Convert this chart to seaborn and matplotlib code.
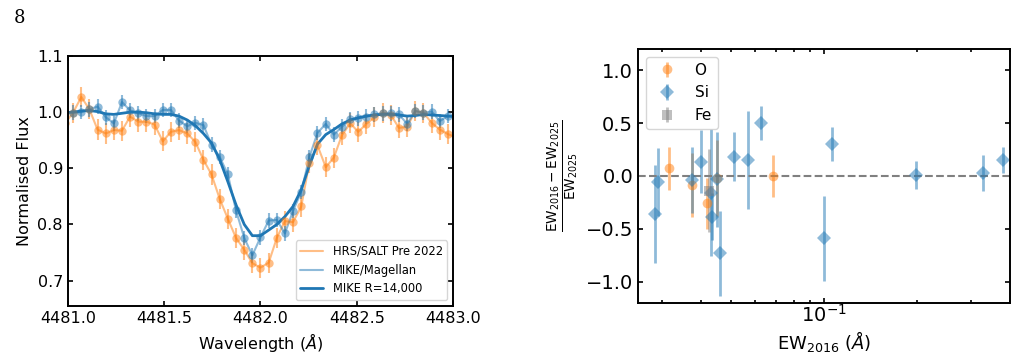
import numpy as np
import matplotlib
matplotlib.use("Agg")
import matplotlib.pyplot as plt
import seaborn as sns
import pandas as pd

# ---- left panel: spectra ----
wave = [4480.985, 4481.027, 4481.070, 4481.112, 4481.154, 4481.197, 4481.239,
        4481.281, 4481.323, 4481.366, 4481.408, 4481.450, 4481.493, 4481.535,
        4481.577, 4481.620, 4481.662, 4481.704, 4481.746, 4481.789, 4481.831,
        4481.873, 4481.916, 4481.958, 4482.000, 4482.043, 4482.085, 4482.127,
        4482.169, 4482.212, 4482.254, 4482.296, 4482.339, 4482.381, 4482.423,
        4482.466, 4482.508, 4482.550, 4482.592, 4482.635, 4482.677, 4482.719,
        4482.762, 4482.804, 4482.846, 4482.889, 4482.931, 4482.973, 4483.015]

hrs_flux = [0.980, 0.999, 1.027, 1.005, 0.969, 0.962, 0.968, 0.967, 0.992, 0.983,
            0.983, 0.978, 0.948, 0.965, 0.968, 0.962, 0.947, 0.915, 0.889, 0.845,
            0.810, 0.776, 0.755, 0.731, 0.723, 0.732, 0.776, 0.806, 0.804, 0.832,
            0.910, 0.941, 0.902, 0.919, 0.959, 0.980, 0.965, 0.979, 0.991, 0.999,
            0.995, 0.972, 0.974, 1.002, 0.999, 0.981, 0.969, 0.961, 0.955]
hrs_err = 0.018

# MIKE starts at the second wavelength bin
mike_flux = [0.999, 1.000, 1.005, 1.010, 0.991, 0.980, 1.018, 1.003, 0.998, 0.993,
             0.993, 1.004, 1.004, 0.985, 0.975, 0.981, 0.977, 0.942, 0.920, 0.889,
             0.825, 0.776, 0.745, 0.777, 0.807, 0.808, 0.784, 0.824, 0.858, 0.920,
             0.963, 0.979, 0.960, 0.974, 0.987, 0.989, 0.992, 0.996, 0.998, 0.998,
             0.996, 0.979, 1.002, 0.999, 1.001, 0.984, 0.993, 0.993]
mike_err = 0.013

mike_r14k = [0.999, 1.000, 1.002, 1.003, 1.001, 0.997, 0.996, 0.998, 1.000, 1.000,
             0.999, 0.997, 0.996, 0.996, 0.993, 0.986, 0.976, 0.962, 0.945, 0.915,
             0.876, 0.835, 0.800, 0.780, 0.780, 0.790, 0.800, 0.814, 0.832, 0.862,
             0.905, 0.943, 0.960, 0.969, 0.979, 0.986, 0.990, 0.993, 0.995, 0.996,
             0.996, 0.995, 0.993, 0.994, 0.996, 0.995, 0.994, 0.993, 0.992]

# ---- right panel: EW comparison ----
o_ew = [0.0316, 0.0373, 0.0417, 0.0451, 0.0686]
o_dev = [0.072, -0.085, -0.258, -0.020, 0.000]
o_err = [0.20, 0.30, 0.24, 0.36, 0.20]

si_ew = [0.0284, 0.0291, 0.0373, 0.0399, 0.0431, 0.0433, 0.0451, 0.0461,
         0.0513, 0.0567, 0.0624, 0.100, 0.106, 0.1986, 0.3266, 0.380]
si_dev = [-0.358, -0.054, -0.038, 0.135, -0.157, -0.384, -0.030, -0.730,
          0.182, 0.151, 0.497, -0.588, 0.302, 0.009, 0.031, 0.151]
si_err = [0.46, 0.32, 0.31, 0.30, 0.60, 0.22, 0.45, 0.40,
          0.23, 0.46, 0.16, 0.40, 0.16, 0.13, 0.17, 0.12]

fe_ew = [0.0425]
fe_dev = [-0.139]
fe_err = [0.39]

sns.set_style("ticks")
plt.rcParams['font.family'] = ['DejaVu Sans']
plt.rcParams['mathtext.fontset'] = 'dejavusans'
for k in ['axes.edgecolor', 'xtick.color', 'ytick.color', 'text.color', 'axes.labelcolor']:
    plt.rcParams[k] = 'black'

fig = plt.figure(figsize=(10.28, 3.59), dpi=100)
ax1 = fig.add_axes([0.066, 0.148, 0.3747, 0.696])
ax2 = fig.add_axes([0.6206, 0.156, 0.3619, 0.7075])

ORANGE = sns.color_palette()[1]
BLUE = sns.color_palette()[0]

# left panel
ax1.errorbar(wave, hrs_flux, yerr=hrs_err, fmt='o', color=ORANGE, alpha=0.5,
             markersize=6, markeredgewidth=0, elinewidth=1.5, capsize=0)
ax1.errorbar(wave[1:], mike_flux, yerr=mike_err, fmt='o', color=BLUE, alpha=0.5,
             markersize=6, markeredgewidth=0, elinewidth=1.5, capsize=0)
df_h = pd.DataFrame({'w': wave, 'f': hrs_flux})
df_m = pd.DataFrame({'w': wave[1:], 'f': mike_flux})
df_r = pd.DataFrame({'w': wave, 'f': mike_r14k})
sns.lineplot(data=df_h, x='w', y='f', ax=ax1, color=ORANGE, alpha=0.5, lw=1.5,
             label='HRS/SALT Pre 2022')
sns.lineplot(data=df_m, x='w', y='f', ax=ax1, color=BLUE, alpha=0.5, lw=1.5,
             label='MIKE/Magellan')
sns.lineplot(data=df_r, x='w', y='f', ax=ax1, color=BLUE, lw=2,
             label='MIKE R=14,000')

ax1.set_xlim(4481.0, 4483.0)
ax1.set_ylim(0.655, 1.1)
ax1.set_xticks([4481.0, 4481.5, 4482.0, 4482.5, 4483.0])
ax1.set_yticks([0.7, 0.8, 0.9, 1.0, 1.1])
ax1.set_xlabel(r'Wavelength ($\AA$)', fontsize=11.5)
ax1.set_ylabel('Normalised Flux', fontsize=11.5)
ax1.tick_params(direction='in', top=True, right=True, labelsize=11.5, width=1.2)
for s in ax1.spines.values():
    s.set_linewidth(1.4)
ax1.legend(loc='lower right', fontsize=8.3, frameon=True)

# right panel
ax2.errorbar(o_ew, o_dev, yerr=o_err, fmt='o', color=ORANGE, alpha=0.5,
             markersize=7, markeredgewidth=0, elinewidth=2, capsize=0, label='O')
ax2.errorbar(si_ew, si_dev, yerr=si_err, fmt='D', color=BLUE, alpha=0.5,
             markersize=7.5, markeredgewidth=0, elinewidth=2, capsize=0, label='Si')
ax2.errorbar(fe_ew, fe_dev, yerr=fe_err, fmt='s', color='gray', alpha=0.5,
             markersize=7, markeredgewidth=0, elinewidth=2, capsize=0, label='Fe')
ax2.axhline(0, color='gray', ls='--', lw=1.5)
ax2.set_xscale('log')
ax2.set_xlim(0.025, 0.4)
ax2.set_ylim(-1.2, 1.2)
ax2.set_yticks([-1.0, -0.5, 0.0, 0.5, 1.0])
ax2.set_xlabel(r'EW$_{2016}$ ($\AA$)', fontsize=13, labelpad=2)
ax2.set_ylabel(r'$\frac{\mathrm{EW}_{2016}-\mathrm{EW}_{2025}}{\mathrm{EW}_{2025}}$',
               fontsize=14)
ax2.tick_params(which='both', direction='in', top=True, right=True, width=1.2)
ax2.tick_params(which='major', labelsize=14)
ax2.tick_params(axis='x', which='major', pad=1)
for s in ax2.spines.values():
    s.set_linewidth(1.4)
ax2.legend(loc='upper left', fontsize=11, frameon=True)

fig.text(0.013, 0.935, '8', family='DejaVu Serif', fontsize=13)

fig.savefig('out.png', dpi=100)
